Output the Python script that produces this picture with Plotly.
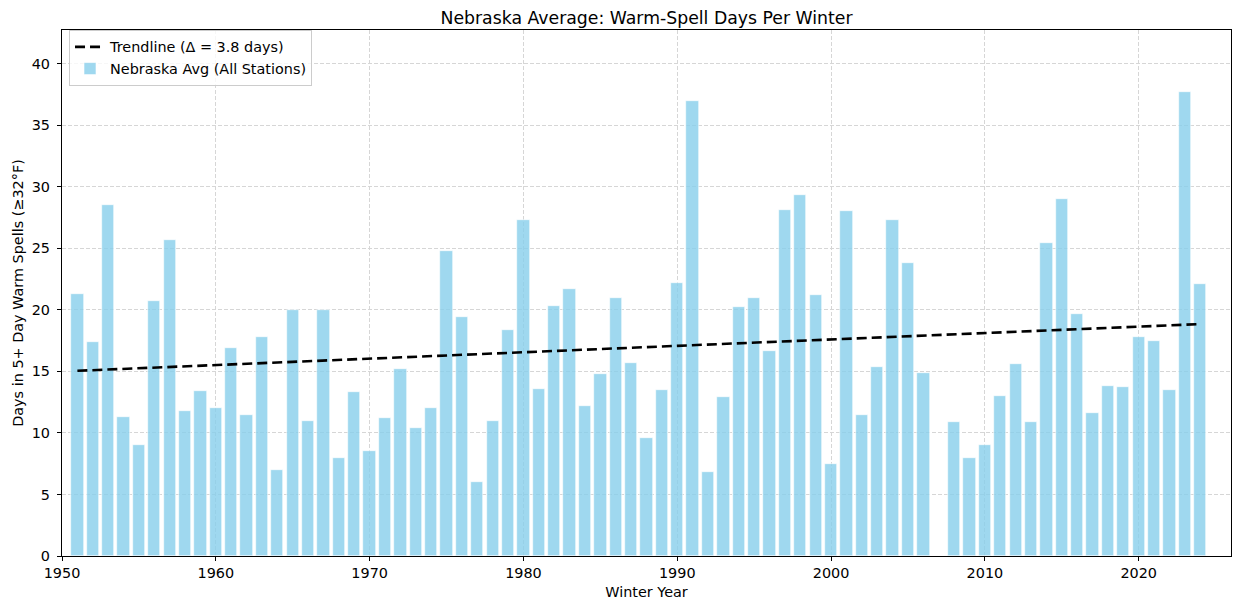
import plotly.graph_objects as go

# winter years (2007 has no data)
years = [1951, 1952, 1953, 1954, 1955, 1956, 1957, 1958, 1959, 1960,
         1961, 1962, 1963, 1964, 1965, 1966, 1967, 1968, 1969, 1970,
         1971, 1972, 1973, 1974, 1975, 1976, 1977, 1978, 1979, 1980,
         1981, 1982, 1983, 1984, 1985, 1986, 1987, 1988, 1989, 1990,
         1991, 1992, 1993, 1994, 1995, 1996, 1997, 1998, 1999, 2000,
         2001, 2002, 2003, 2004, 2005, 2006, 2008, 2009, 2010,
         2011, 2012, 2013, 2014, 2015, 2016, 2017, 2018, 2019, 2020,
         2021, 2022, 2023, 2024]
warm_days = [21.3, 17.4, 28.5, 11.3, 9.0, 20.7, 25.7, 11.8, 13.4, 12.0,
             16.9, 11.5, 17.8, 7.0, 20.0, 11.0, 20.0, 8.0, 13.3, 8.5,
             11.2, 15.2, 10.4, 12.0, 24.8, 19.4, 6.0, 11.0, 18.4, 27.3,
             13.6, 20.3, 21.7, 12.2, 14.8, 21.0, 15.7, 9.6, 13.5, 22.2,
             37.0, 6.8, 12.9, 20.2, 21.0, 16.7, 28.1, 29.3, 21.2, 7.5,
             28.0, 11.5, 15.4, 27.3, 23.8, 14.9, 10.9, 8.0, 9.0,
             13.0, 15.6, 10.9, 25.4, 29.0, 19.7, 11.6, 13.8, 13.7, 17.8,
             17.5, 13.5, 37.7, 22.1]

trend_years = [1951, 2024]
trend_values = [15.05, 18.85]

font = "DejaVu Sans"

fig = go.Figure()
fig.add_trace(go.Bar(
    x=years, y=warm_days, width=0.8,
    marker=dict(color="rgba(135,206,235,0.8)", line=dict(color="white", width=0.6)),
    name="Nebraska Avg (All Stations)",
))
fig.add_trace(go.Scatter(
    x=trend_years, y=trend_values, mode="lines",
    line=dict(color="black", width=2.6, dash="10px,5px"),
    name="Trendline (Δ = 3.8 days)",
))

axis_style = dict(
    showline=True, linecolor="black", linewidth=1.2, mirror=True,
    ticks="outside", ticklen=4, tickcolor="black",
    showgrid=True, gridcolor="#d6d6d6", griddash="4px,2px", gridwidth=1,
    zeroline=False, tickfont=dict(size=14.4, color="black"), automargin=False,
)

# page body adds an 8px offset, so the figure is 8px smaller on each side
fig.update_layout(
    width=1232, height=600,
    margin=dict(l=54, r=9, t=22, b=52),
    paper_bgcolor="white", plot_bgcolor="white",
    font=dict(family=font, color="black"),
    title=dict(text="Nebraska Average: Warm-Spell Days Per Winter", x=0.5, xanchor="center",
               xref="paper", y=0.984, yanchor="middle", font=dict(size=17.3)),
    bargap=0,
    legend=dict(x=0.006, y=1.0, xanchor="left", yanchor="top", traceorder="reversed",
                bgcolor="rgba(255,255,255,0.8)", bordercolor="#cccccc", borderwidth=1,
                font=dict(size=14.4), tracegroupgap=0),
    showlegend=True,
)
fig.update_xaxes(axis_style, range=[1950, 2026], tickvals=[1950, 1960, 1970, 1980, 1990, 2000, 2010, 2020],
                 title=dict(text="Winter Year", font=dict(size=14.4), standoff=6))
fig.update_yaxes(axis_style, range=[0, 42.75], tickvals=[0, 5, 10, 15, 20, 25, 30, 35, 40],
                 ticklabelstandoff=4,
                 title=dict(text="Days in 5+ Day Warm Spells (≥32°F)", font=dict(size=14.4), standoff=4))

fig.write_html("out.html")
